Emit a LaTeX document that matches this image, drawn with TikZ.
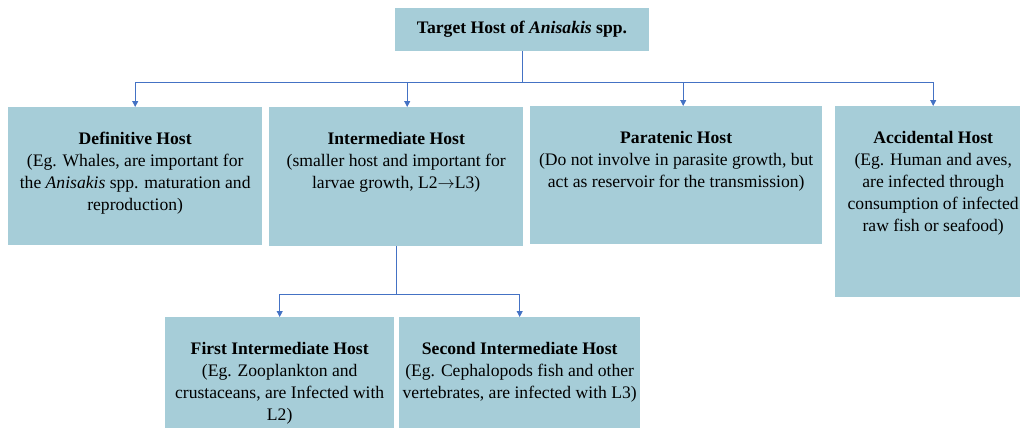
\documentclass[tikz,border=0pt]{standalone}
\usepackage{fontspec}
\setmainfont{Liberation Serif}
\usetikzlibrary{arrows.meta}
\definecolor{hostblue}{RGB}{166,205,216}
\definecolor{linkblue}{RGB}{68,114,196}

\begin{document}
\begin{tikzpicture}[
    x=1pt, y=-1pt,
    font=\fontsize{17.6}{22}\selectfont,
    hostbox/.style={fill=hostblue, inner sep=0pt, anchor=north west},
    link/.style={draw=linkblue, line width=0.8pt},
    arrow/.style={link, -{Triangle[length=6pt, width=6pt]}}
]
\useasboundingbox (0,0) rectangle (1020,428);

% Root
\node[fill=hostblue, inner sep=0pt, minimum width=254, minimum height=43,
      font=\fontsize{17.6}{22}\selectfont\bfseries] (target) at (522,29.5)
      {Target Host of \textit{Anisakis} spp.};

% First level hosts
\node[hostbox] (defin) at (8,107) {\parbox[t][138pt][t]{254pt}{\centering
      \rule{0pt}{37pt}\textbf{Definitive Host}\\(Eg. Whales, are important for\\
      the \textit{Anisakis} spp. maturation and\\reproduction)}};
\node[hostbox] (inter) at (269,107) {\parbox[t][139pt][t]{254pt}{\centering
      \rule{0pt}{37pt}\textbf{Intermediate Host}\\(smaller host and important for\\
      larvae growth, L2$\rightarrow$L3)}};
\node[hostbox] (parat) at (530,106) {\parbox[t][138pt][t]{292pt}{\centering
      \rule{0pt}{37pt}\textbf{Paratenic Host}\\(Do not involve in parasite growth, but\\
      act as reservoir for the transmission)}};
\node[hostbox] (accid) at (835,106) {\parbox[t][191pt][t]{196pt}{\centering
      \rule{0pt}{37pt}\textbf{Accidental Host}\\(Eg. Human and aves,\\are infected through\\
      consumption of infected\\raw fish or seafood)}};

% Second level hosts
\node[hostbox] (first) at (165,317) {\parbox[t][115pt][t]{229pt}{\centering
      \rule{0pt}{37pt}\textbf{First Intermediate Host}\\(Eg. Zooplankton and\\
      crustaceans, are Infected with\\L2)}};
\node[hostbox] (second) at (399,317) {\parbox[t][115pt][t]{241pt}{\centering
      \rule{0pt}{37pt}\textbf{Second Intermediate Host}\\(Eg. Cephalopods fish and other\\
      vertebrates, are infected with L3)}};

% Root to first level
\coordinate (split) at (target.south |- 0,82);
\draw[link] (target.south) -- (split);
\draw[arrow] (split) -| (defin.north);
\draw[arrow] (split) -| ([xshift=11pt]inter.north);
\draw[arrow] (split) -| ([xshift=7pt]parat.north);
\draw[arrow] (split) -| (accid.north);

% Intermediate to second level
\coordinate (fork) at (inter.south |- 0,294);
\draw[link] (inter.south) -- (fork);
\draw[arrow] (fork) -| (first.north);
\draw[arrow] (fork) -| (second.north);

\end{tikzpicture}
\end{document}
